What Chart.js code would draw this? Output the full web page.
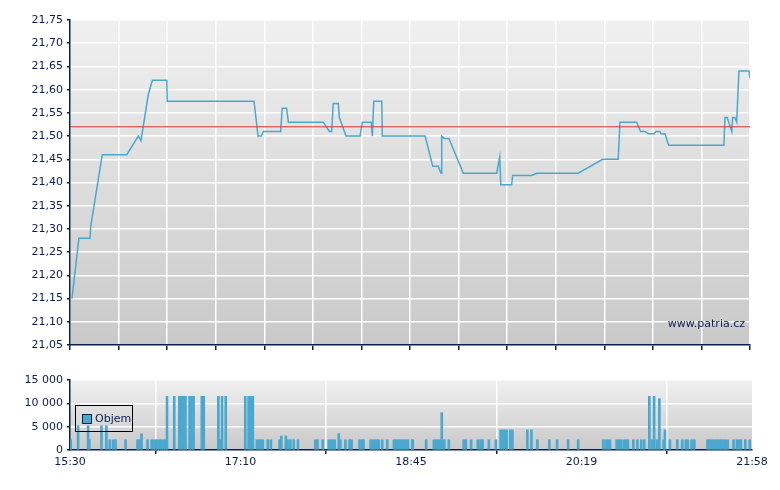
<!DOCTYPE html>
<html>
<head>
<meta charset="utf-8">
<script src="https://cdn.jsdelivr.net/npm/chart.js@4"></script>
<style>
	body { margin: 0; background: #fff; width: 780px; height: 490px; position: relative; overflow: hidden; }
	#price { position: absolute; left: 0; top: 0; }
	#volume { position: absolute; left: 0; top: 360px; }
	#legend { position: absolute; left: 75px; top: 405px; width: 58px; height: 27px; border: 1px solid #000; box-sizing: border-box;
		font: 11px "DejaVu Sans", sans-serif; color: #0a1e50; display: flex; align-items: center; padding-left: 6px; }
	#legend span { display: inline-block; width: 8px; height: 8px; background: #4aa8d0; border: 1px solid #0a1e50; margin-right: 3px; }
</style>
</head>
<body>
<canvas id="price" width="780" height="360"></canvas>
<canvas id="volume" width="780" height="130"></canvas>
<div id="legend"><span></span>Objem</div>
<script>
(() => {
	'use strict'

	// minutes after 15:30
	const priceTimes = [1.1, 5.1, 11.4, 11.8, 18.4, 21.9, 23.8, 32.4, 39, 40.5, 44.7, 47, 55.2, 55.5, 105, 107.3, 109.2, 110.3,
		120.2, 121.1, 123.6, 124.6, 144.5, 148, 149.3, 150.2, 153.1, 153.7, 157.5, 165.5, 166.8, 171.9, 172.5, 173.3, 177.9, 178.2,
		202.6, 207, 210.1, 211.7, 212.1, 213.6, 216.2, 224.4, 243.5, 245.2, 245.8, 252, 252.6, 263.4, 266.3, 290, 303.9, 312.8,
		313.8, 323.3, 325.6, 328.1, 330, 333.2, 334.4, 336.6, 337.2, 339.5, 341.6, 373.1, 373.7, 375, 377.6, 378.1, 379.4, 380.4,
		381.7, 387.4, 388];
	const priceValues = [21.15, 21.28, 21.28, 21.305, 21.46, 21.46, 21.46, 21.46, 21.50, 21.49, 21.59, 21.62, 21.62, 21.575, 21.575, 21.50, 21.50, 21.51,
		21.51, 21.56, 21.56, 21.53, 21.53, 21.51, 21.51, 21.57, 21.57, 21.54, 21.50, 21.50, 21.53, 21.53, 21.50, 21.575, 21.575, 21.50,
		21.50, 21.435, 21.435, 21.42, 21.50, 21.495, 21.495, 21.42, 21.42, 21.455, 21.395, 21.395, 21.415, 21.415, 21.42, 21.42, 21.45, 21.45,
		21.53, 21.53, 21.51, 21.51, 21.505, 21.505, 21.51, 21.51, 21.505, 21.505, 21.48, 21.48, 21.54, 21.54, 21.51, 21.54, 21.54, 21.53,
		21.64, 21.64, 21.625];
	const referencePrice = 21.52;

	const volumeTimes = [0.4, 4.6, 10.3, 11, 17.9, 20.7, 22.6, 24.5, 25.9, 31.6, 38.4, 39.5, 40.7, 44.1,
		46.4, 47.5, 48.7, 49.8, 51, 52.1, 53.3, 54.4, 55.2, 59.3, 62.2, 63.3, 64.5, 65.7, 68, 69.1, 70.3, 75, 76.1,
		84.4, 85.5, 86.5, 88.6, 99.7, 101.6, 102.8, 104, 106.3, 107.4, 108.6, 109.7, 112.5, 114.3,
		119.2, 120.2, 122.8, 123.8, 125.4, 127.3, 129.7, 139.6, 140.8, 143.8, 147.2, 148.3, 149.5, 150.6, 152.9, 153.8,
		156.7, 159, 160.2, 164.7, 165.9, 167, 171, 172.2, 173.3, 174.5, 175.6, 177.6, 180.5,
		184.3, 185.4, 186.6, 187.7, 188.9, 190, 191.2, 192.3, 194.8, 195, 202.6, 207, 208.3, 209.4, 210.4, 211.5, 213, 215.5,
		224, 225.2, 228.2, 232, 233.5, 234.7, 238.3, 242.3, 245, 246.1, 247.3, 248.4, 250.5, 251.7, 260.2, 262.5, 265.9,
		272.7, 277.1, 283.4, 289.1, 303.4, 304.9, 306, 307.2, 311, 312.3, 313.5, 315.1, 316.3, 317.4, 320.5, 322.8, 325, 326.7,
		329.6, 331, 332.3, 333.8, 335.3, 337.7, 338.5, 341.3, 345.5, 348.3, 350.3, 351.5, 353.6, 355.2,
		362.7, 363.8, 365, 366.1, 367.3, 368.4, 369.6, 370.7, 371.9, 373, 374.2, 377.5, 379.4, 380.6, 381.7, 384.2, 386.7];
	const volumeValues = [2200, 5200, 5200, 2200, 5200, 5200, 2200, 2200, 2200, 2200, 2200, 2200, 3500, 2200,
		2200, 2200, 2200, 2200, 2200, 2200, 2200, 2200, 11500, 11500, 11500, 11500, 11500, 11500, 11500, 11500, 11500, 11500, 11500,
		11500, 2200, 11500, 11500, 11500, 11500, 11500, 11500, 2200, 2200, 2200, 2200, 2200, 2200,
		2200, 3000, 3000, 2200, 2200, 2200, 2200, 2200, 2200, 2200, 2200, 2200, 2200, 2200, 3500, 2200,
		2200, 2200, 2200, 2200, 2200, 2200, 2200, 2200, 2200, 2200, 2200, 2200, 2200,
		2200, 2200, 2200, 2200, 2200, 2200, 2200, 2200, 2200, 2200, 2200, 2200, 2200, 2200, 2200, 8000, 2200, 2200,
		2200, 2200, 2200, 2200, 2200, 2200, 2200, 2200, 4300, 4300, 4300, 4300, 4300, 4300, 4300, 4300, 2200,
		2200, 2200, 2200, 2200, 2200, 2200, 2200, 2200, 2200, 2200, 2200, 2200, 2200, 2200, 2200, 2200, 2200, 2200,
		11500, 2200, 11500, 2200, 11000, 2200, 4300, 2200, 2200, 2200, 2200, 2200, 2200, 2200,
		2200, 2200, 2200, 2200, 2200, 2200, 2200, 2200, 2200, 2200, 2200, 2200, 2200, 2200, 2200, 2200, 2200];

	const timeLabels = ['15:30', '17:10', '18:45', '20:19', '21:58'];
	const totalMinutes = 388;

	const navy = '#0a1e50';
	const font = { family: 'DejaVu Sans', size: 11 };

	const backdrop = {
		id: 'backdrop',
		beforeDraw(chart) {
			const { ctx, chartArea: a } = chart;
			const g = ctx.createLinearGradient(0, a.top, 0, a.bottom);
			g.addColorStop(0, '#f0f0f0');
			g.addColorStop(1, '#c9c9c9');
			ctx.save();
			ctx.fillStyle = g;
			ctx.fillRect(a.left, a.top, a.right - a.left, a.bottom - a.top);
			ctx.restore();
		}
	};

	const refLine = {
		id: 'refLine',
		afterDatasetsDraw(chart) {
			const { ctx, chartArea: a, scales } = chart;
			const y = scales.y.getPixelForValue(referencePrice);
			ctx.save();
			ctx.strokeStyle = '#e03030';
			ctx.lineWidth = 1;
			ctx.beginPath();
			ctx.moveTo(a.left, y);
			ctx.lineTo(a.right, y);
			ctx.stroke();
			ctx.fillStyle = navy;
			ctx.font = '11px "DejaVu Sans"';
			ctx.textAlign = 'right';
			ctx.fillText('www.patria.cz', a.right - 5, a.bottom - 18);
			ctx.restore();
		}
	};

	new Chart(document.getElementById('price'), {
		type: 'line',
		data: {
			datasets: [{
				data: priceTimes.map((t, i) => ({ x: t, y: priceValues[i] })),
				borderColor: '#4aa8d0',
				borderWidth: 1.5,
				pointRadius: 0,
				tension: 0
			}]
		},
		options: {
			responsive: false,
			animation: false,
			layout: { padding: { top: 20, right: 30 } },
			plugins: { legend: { display: false }, tooltip: { enabled: false } },
			scales: {
				x: {
					type: 'linear', min: 0, max: totalMinutes,
					afterBuildTicks: (s) => { s.ticks = Array.from({ length: 15 }, (_, i) => ({ value: i * totalMinutes / 14 })); },
					afterFit: (s) => { s.height = 15; },
					ticks: { display: false },
					grid: { color: '#ffffff', lineWidth: 1.5, tickColor: navy, tickLength: 5 },
					border: { color: navy, width: 1.5 }
				},
				y: {
					min: 21.05, max: 21.75,
					afterFit: (s) => { s.width = 70; },
					ticks: { stepSize: 0.05, color: navy, font, padding: 4, callback: (v) => v.toFixed(2).replace('.', ',') },
					grid: { color: '#ffffff', lineWidth: 1.5, tickColor: navy, tickLength: 3 },
					border: { color: navy, width: 1.5 }
				}
			}
		},
		plugins: [backdrop, refLine]
	});

	new Chart(document.getElementById('volume'), {
		type: 'bar',
		data: {
			datasets: [{
				data: volumeTimes.map((t, i) => ({ x: t, y: volumeValues[i] })),
				backgroundColor: '#4aa8d0',
				barThickness: 2
			}]
		},
		options: {
			responsive: false,
			animation: false,
			layout: { padding: { top: 20, right: 28 } },
			plugins: { legend: { display: false }, tooltip: { enabled: false } },
			scales: {
				x: {
					type: 'linear', min: 0, max: totalMinutes, offset: false,
					afterBuildTicks: (s) => { s.ticks = timeLabels.map((_, i) => ({ value: i * totalMinutes / 4 })); },
					afterFit: (s) => { s.height = 40; },
					ticks: { color: navy, font, padding: 2, maxRotation: 0, callback: (v, i) => timeLabels[i] },
					grid: { color: '#ffffff', lineWidth: 1.5, tickColor: navy, tickLength: 4 },
					border: { color: navy, width: 1.5 }
				},
				y: {
					min: 0, max: 15000,
					afterFit: (s) => { s.width = 70; },
					ticks: { stepSize: 5000, color: navy, font, padding: 4, callback: (v) => v === 0 ? '0' : (v / 1000) + ' 000' },
					grid: { color: '#ffffff', lineWidth: 1.5, tickColor: navy, tickLength: 3 },
					border: { color: navy, width: 1.5 }
				}
			}
		},
		plugins: [backdrop]
	});
})()
</script>
</body>
</html>
